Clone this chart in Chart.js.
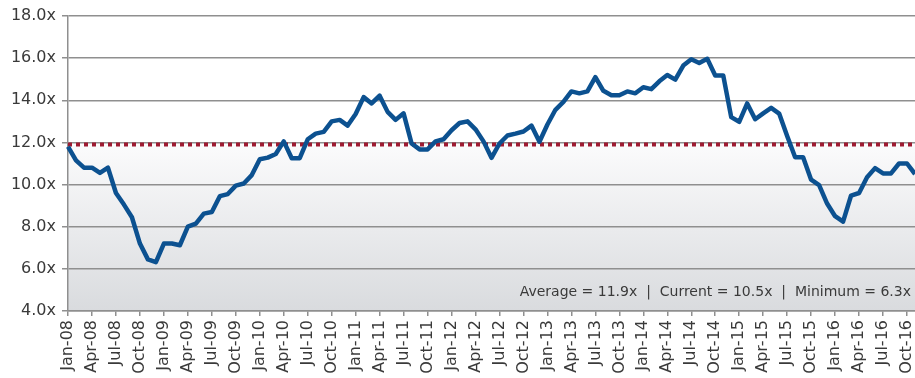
<!DOCTYPE html>
<html>
<head>
<meta charset="utf-8">
<script src="https://cdn.jsdelivr.net/npm/chart.js@4"></script>
<style>
  html, body { margin: 0; padding: 0; background: #fff; overflow: hidden; }
  #wrap { width: 915px; height: 378px; }
</style>
</head>
<body>
<div id="wrap"><canvas id="peChart"></canvas></div>
<script>
// Month categories, Jan-08 through Nov-16
const monthNames = ['Jan', 'Feb', 'Mar', 'Apr', 'May', 'Jun', 'Jul', 'Aug', 'Sep', 'Oct', 'Nov', 'Dec'];
const years = ['08', '09', '10', '11', '12', '13', '14', '15', '16'];
const months = [];
years.forEach(y => monthNames.forEach(m => months.push(m + '-' + y)));
months.splice(months.indexOf('Nov-16') + 1);

// Forward P/E multiple
const peRatio = [
  11.8, 11.15, 10.8, 10.8, 10.55, 10.8, 9.6, 9.05, 8.45, 7.2, 6.45, 6.32,
  7.2, 7.2, 7.12, 8.0, 8.15, 8.62, 8.7, 9.45, 9.55, 9.95, 10.05, 10.45,
  11.2, 11.28, 11.45, 12.05, 11.25, 11.25, 12.15, 12.42, 12.5, 13.0, 13.07, 12.8,
  13.35, 14.15, 13.85, 14.22, 13.45, 13.07, 13.38, 11.95, 11.67, 11.67, 12.05, 12.15,
  12.58, 12.92, 13.0, 12.62, 12.05, 11.27, 11.95, 12.33, 12.42, 12.52, 12.8, 12.03,
  12.85, 13.55, 13.92, 14.42, 14.33, 14.42, 15.1, 14.45, 14.24, 14.24, 14.42, 14.33,
  14.62, 14.53, 14.9, 15.2, 14.98, 15.65, 15.95, 15.77, 15.97, 15.18, 15.18, 13.2,
  12.98, 13.85, 13.1, 13.38, 13.64, 13.37, 12.3, 11.3, 11.3, 10.23, 9.97, 9.1,
  8.5, 8.24, 9.48, 9.6, 10.35, 10.78, 10.53, 10.53, 11.0, 11.0, 10.5
];

const average = 11.9;
const current = 10.5;
const minimum = 6.3;

const textColor = '#3a3a3a';
const gridColor = '#8f8f8f';
const tickFont = { family: 'DejaVu Sans', size: 16 };

// Summary line in the bottom right corner of the plot
const summaryText = {
  id: 'summaryText',
  afterDatasetsDraw(chart) {
    const { ctx, chartArea } = chart;
    ctx.save();
    ctx.font = '14px "DejaVu Sans"';
    ctx.fillStyle = textColor;
    ctx.textAlign = 'right';
    ctx.textBaseline = 'alphabetic';
    ctx.fillText('Average = ' + average.toFixed(1) + 'x  |  Current = ' + current.toFixed(1) +
      'x  |  Minimum = ' + minimum.toFixed(1) + 'x', chartArea.right - 4, chartArea.bottom - 15);
    ctx.restore();
  }
};

const ctx = document.getElementById('peChart').getContext('2d');
new Chart(ctx, {
  type: 'line',
  data: {
    labels: months,
    datasets: [{
      label: 'Forward P/E',
      data: peRatio,
      borderColor: '#0c5190',
      borderWidth: 4.5,
      borderJoinStyle: 'round',
      pointRadius: 0,
      tension: 0,
      fill: false
    }, {
      label: 'Average',
      data: months.map(() => average),
      borderColor: '#9e1b32',
      borderWidth: 4,
      borderDash: [4, 4],
      borderCapStyle: 'butt',
      pointRadius: 0,
      tension: 0,
      fill: 'start',
      // grey gradient below the average line
      backgroundColor(context) {
        const chart = context.chart;
        const area = chart.chartArea;
        if (!area || !chart.scales.y) return 'rgba(0,0,0,0)';
        const top = chart.scales.y.getPixelForValue(average);
        const g = chart.ctx.createLinearGradient(0, top, 0, area.bottom);
        g.addColorStop(0, '#fbfbfc');
        g.addColorStop(1, '#d9dbde');
        return g;
      }
    }]
  },
  options: {
    responsive: true,
    maintainAspectRatio: false,
    animation: false,
    layout: { padding: { top: 16, left: 0, right: 0, bottom: 0 } },
    plugins: {
      legend: { display: false },
      tooltip: { enabled: false },
      filler: { drawTime: 'beforeDraw' }
    },
    scales: {
      x: {
        afterBuildTicks(scale) {
          // one label per quarter
          scale.ticks = scale.ticks.filter(t => t.value % 3 === 0);
        },
        afterFit(scale) {
          scale.height = 67;
          scale.paddingLeft = 0;
          scale.paddingRight = 0;
        },
        border: { color: gridColor, width: 1.5 },
        grid: { drawOnChartArea: false, color: gridColor, lineWidth: 1.5, tickLength: 5 },
        ticks: {
          autoSkip: false,
          minRotation: 90,
          maxRotation: 90,
          padding: 4,
          color: textColor,
          font: tickFont
        }
      },
      y: {
        min: 4,
        max: 18,
        afterFit(scale) { scale.width = 68; },
        border: { color: gridColor, width: 1.5 },
        grid: { color: gridColor, lineWidth: 1.5, tickLength: 6 },
        ticks: {
          stepSize: 2,
          padding: 6,
          color: textColor,
          font: tickFont,
          callback: v => v.toFixed(1) + 'x'
        }
      }
    }
  },
  plugins: [summaryText]
});
</script>
</body>
</html>
